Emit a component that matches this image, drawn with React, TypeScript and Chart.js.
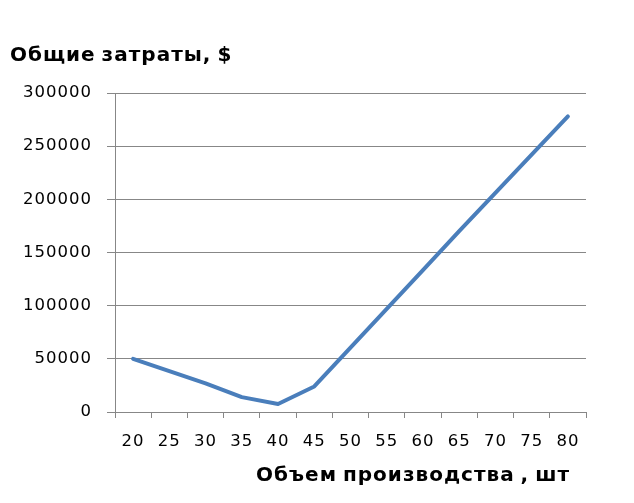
import React, { useEffect, useRef } from "react";
import { Chart, registerables } from "chart.js";

Chart.register(...registerables);

const categories: string[] = ["20", "25", "30", "35", "40", "45", "50", "55", "60", "65", "70", "75", "80"];
const totalCosts: number[] = [50000, 38500, 27000, 14000, 7500, 24000, 60500, 97000, 133500, 170000, 206000, 242000, 278000];
const yTicks: number[] = [0, 50000, 100000, 150000, 200000, 250000, 300000];
const yTitle = "Общие затраты, $";
const xTitle = "Объем производства , шт";

const LINE_COLOR = "#4A7EBB";
const GRID_COLOR = "#878787";
const FONT = "'DejaVu Sans', Verdana, sans-serif";
const SPACING = "1px";
const WORD_SPACING = "-2px";

const spacingPlugin = {
  id: "letterSpacing",
  beforeUpdate(chart: any) {
    chart.ctx.letterSpacing = SPACING;
    chart.ctx.wordSpacing = WORD_SPACING;
  },
  beforeDraw(chart: any) {
    chart.ctx.letterSpacing = SPACING;
    chart.ctx.wordSpacing = WORD_SPACING;
  },
};

const xTitlePlugin = {
  id: "xAxisTitle",
  afterDraw(chart: any) {
    const ctx = chart.ctx;
    const area = chart.chartArea;
    ctx.save();
    ctx.letterSpacing = SPACING;
    ctx.wordSpacing = WORD_SPACING;
    ctx.font = `bold 20px ${FONT}`;
    ctx.fillStyle = "#000";
    ctx.textAlign = "right";
    ctx.textBaseline = "middle";
    ctx.fillText(xTitle, area.right - 16, area.bottom + 64);
    ctx.restore();
  },
};

export default function App() {
  const ref = useRef<HTMLCanvasElement | null>(null);
  useEffect(() => {
    if (!ref.current) return;
    const chart = new Chart(ref.current, {
      type: "line",
      data: {
        labels: categories,
        datasets: [
          {
            data: totalCosts,
            borderColor: LINE_COLOR,
            backgroundColor: LINE_COLOR,
            borderWidth: 4,
            pointRadius: 0,
            tension: 0,
            borderCapStyle: "round",
            borderJoinStyle: "round",
          },
        ],
      },
      plugins: [spacingPlugin, xTitlePlugin],
      options: {
        animation: false,
        responsive: true,
        maintainAspectRatio: false,
        layout: { padding: { left: 2, right: 40, top: 0, bottom: 0 } },
        plugins: {
          legend: { display: false },
          tooltip: { enabled: false },
          title: {
            display: true,
            text: yTitle,
            align: "start",
            color: "#000",
            font: { family: FONT, size: 20, weight: "bold" },
            padding: { top: 36, bottom: 25 },
          },
        },
        scales: {
          x: {
            type: "category",
            offset: true,
            grid: {
              offset: true,
              drawOnChartArea: false,
              drawTicks: true,
              tickLength: 6,
              color: GRID_COLOR,
              lineWidth: 1,
            },
            border: { display: true, color: GRID_COLOR, width: 1 },
            ticks: {
              color: "#000",
              font: { family: FONT, size: 16.5 },
              padding: 14,
              maxRotation: 0,
              autoSkip: false,
            },
            title: { display: false },
            afterFit(scale: any) {
              scale.height = 83;
            },
          },
          y: {
            min: yTicks[0],
            max: yTicks[yTicks.length - 1],
            afterBuildTicks(scale: any) {
              scale.ticks = yTicks.map((v) => ({ value: v }));
            },
            ticks: {
              color: "#000",
              font: { family: FONT, size: 16.5 },
              padding: 15,
              callback: (v: any) => String(v),
            },
            grid: {
              color: GRID_COLOR,
              lineWidth: 1,
              tickLength: 8,
              drawTicks: true,
            },
            border: { display: true, color: GRID_COLOR, width: 1 },
            afterFit(scale: any) {
              scale.width = 105;
            },
          },
        },
      },
    });
    return () => chart.destroy();
  }, []);

  return (
    <div style={{ position: "relative", width: 618, height: 487 }}>
      <canvas ref={ref} />
    </div>
  );
}
